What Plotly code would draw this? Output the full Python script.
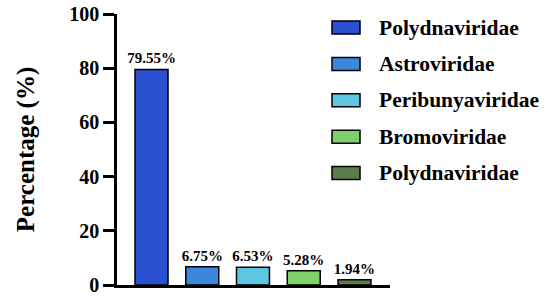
import plotly.graph_objects as go

families = ["Polydnaviridae", "Astroviridae", "Peribunyaviridae", "Bromoviridae", "Polydnaviridae"]
percent = [79.55, 6.75, 6.53, 5.28, 1.94]
colors = ["#2A4FD0", "#3C86DC", "#5DC7E3", "#7ED06A", "#5B7D4A"]
yticks = [0, 20, 40, 60, 80, 100]

W, H = 550, 301
L, R, T, B = 117, 160, 14, 16
pw, ph = W - L - R, H - T - B

FONT = "Liberation Serif, Times New Roman, serif"

fig = go.Figure()
fig.add_trace(go.Bar(
    x=list(range(len(percent))),
    y=percent,
    marker=dict(color=colors, line=dict(color="black", width=1.5)),
    text=[f"{v:.2f}%" for v in percent],
    textposition="outside",
    constraintext="none",
    textfont=dict(family=FONT, size=15, color="black", weight="bold"),
    cliponaxis=False,
    showlegend=False,
))

# manual legend built from the category list
shapes = []
annotations = []
for i, (name, c) in enumerate(zip(families, colors)):
    cy = 27.5 + i * 36.4
    x0, x1 = 332, 360
    shapes.append(dict(type="rect", xref="paper", yref="paper",
                       x0=(x0 - L) / pw, x1=(x1 - L) / pw,
                       y0=(H - B - (cy + 6.5)) / ph, y1=(H - B - (cy - 6.5)) / ph,
                       fillcolor=c, line=dict(color="black", width=1.5)))
    annotations.append(dict(xref="paper", yref="paper",
                            x=(377 - L) / pw, y=(H - B - cy) / ph,
                            xanchor="left", yanchor="middle", showarrow=False,
                            text=name, font=dict(family=FONT, size=21.5, color="black", weight="bold")))

fig.update_layout(
    width=W, height=H,
    margin=dict(l=L, r=R, t=T, b=B, autoexpand=False),
    paper_bgcolor="white", plot_bgcolor="white",
    font=dict(family=FONT, color="black"),
    bargap=0.35,
    shapes=shapes,
    annotations=annotations,
    xaxis=dict(range=[-0.68, 4.70], showticklabels=False, ticks="",
               showline=True, linecolor="black", linewidth=2.5,
               showgrid=False, zeroline=False, fixedrange=True),
    yaxis=dict(range=[0, 100], tickvals=yticks, ticks="outside", ticklen=11,
               tickwidth=2.5, tickcolor="black",
               showline=True, linecolor="black", linewidth=2.5,
               showgrid=False, zeroline=False,
               tickfont=dict(family=FONT, size=20, color="black", weight="bold"),
               title=dict(text="Percentage (%)", standoff=28,
                          font=dict(family=FONT, size=25, color="black", weight="bold"))),
)

fig.write_html("out.html")
